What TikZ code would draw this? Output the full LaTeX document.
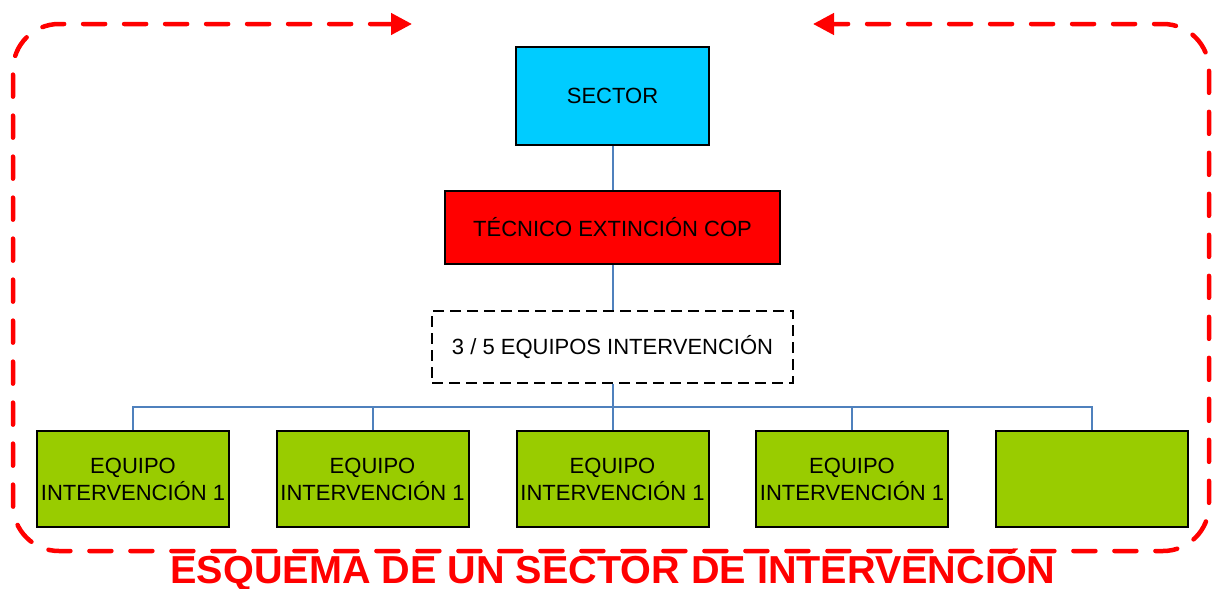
\documentclass[tikz,border=0pt]{standalone}
\usepackage{fontspec}
\setmainfont{Liberation Sans}
\usetikzlibrary{arrows.meta}
\definecolor{sectorcyan}{RGB}{0,204,255}
\definecolor{eqgreen}{RGB}{153,204,0}
\definecolor{connblue}{RGB}{79,129,189}
\definecolor{loopred}{RGB}{255,0,0}
\tikzset{
  boxbase/.style={draw=black, line width=2pt, inner sep=0pt, align=center,
    font=\fontsize{22}{27}\selectfont},
  sectorbox/.style={boxbase, fill=sectorcyan, minimum width=193pt, minimum height=98pt},
  tecbox/.style={boxbase, fill=loopred, minimum width=335pt, minimum height=73pt},
  eqbox/.style={boxbase, fill=white, dash pattern=on 11pt off 6pt, line width=2.5pt, minimum width=361pt, minimum height=72pt},
  teambox/.style={boxbase, fill=eqgreen, minimum width=192pt, minimum height=96pt},
  conn/.style={draw=connblue, line width=2pt},
  redloop/.style={draw=loopred, line width=4.5pt, line cap=round, dash pattern=on 22pt off 19pt,
    rounded corners=46pt, {Triangle[length=21pt,width=21pt]}-{Triangle[length=21pt,width=21pt]}},
  titletext/.style={text=loopred, font=\fontsize{39}{45}\selectfont\bfseries, inner sep=0pt}
}
\begin{document}
\begin{tikzpicture}[x=1pt,y=-1pt]
\useasboundingbox (0,0) rectangle (1213,589);
\coordinate (tl) at (412,24);
\coordinate (tr) at (813,24);
\draw[redloop] (tl) -- (13,24) -- (13,551) -- (1209,551) -- (1209,24) -- (tr);

\node[sectorbox] (sector) at (612.5,96) {SECTOR};
\node[tecbox] (tec) at (612.5,227.5) {TÉCNICO EXTINCIÓN COP};
\node[eqbox] (eq) at (612.5,347) {3 / 5 EQUIPOS INTERVENCIÓN};
\node[teambox] (b1) at (133,479) {EQUIPO\\INTERVENCIÓN 1};
\node[teambox] (b2) at (372.5,479) {EQUIPO\\INTERVENCIÓN 1};
\node[teambox] (b3) at (612.5,479) {EQUIPO\\INTERVENCIÓN 1};
\node[teambox] (b4) at (852,479) {EQUIPO\\INTERVENCIÓN 1};
\node[teambox] (b5) at (1092,479) {};
\coordinate (bus) at (612.5,407);

\draw[conn] (sector) -- (tec);
\draw[conn] (tec) -- (eq);
\draw[conn] (eq) -- (bus);
\foreach \b in {b1,b2,b3,b4,b5} {\draw[conn] (\b.north) |- (bus);}

\node[titletext, anchor=base, xscale=1.015] (title) at (613,583) {ESQUEMA DE UN SECTOR DE INTERVENCIÓN};
\end{tikzpicture}
\end{document}
